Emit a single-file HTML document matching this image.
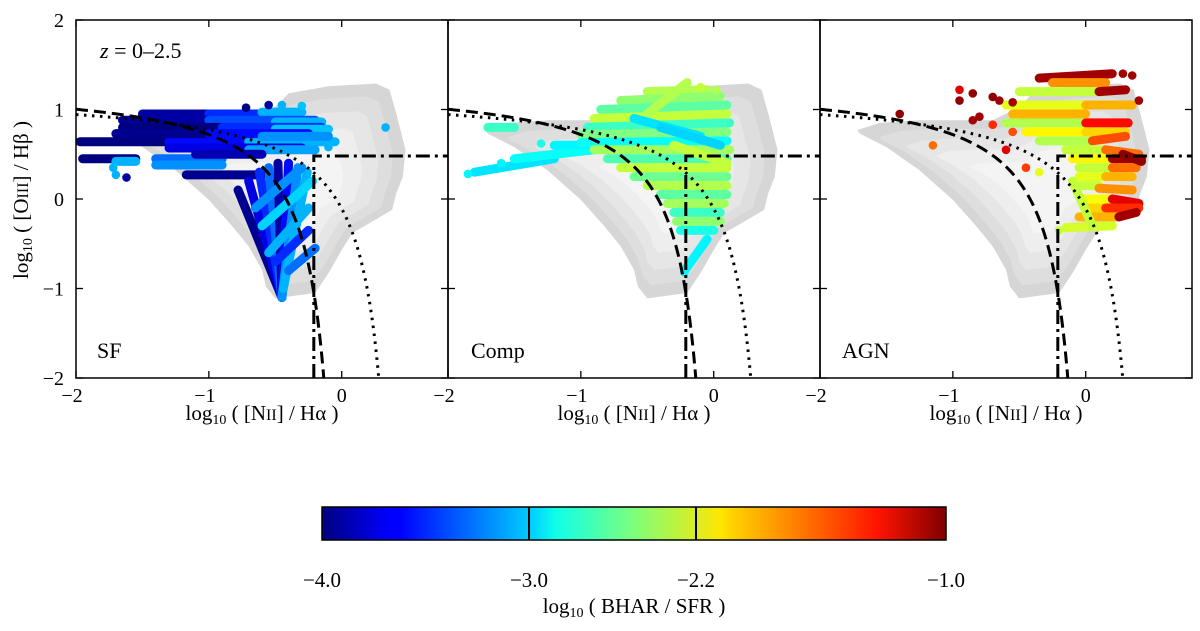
<!DOCTYPE html>
<html><head><meta charset="utf-8"><style>
body{margin:0;background:#fff;width:1200px;height:626px;overflow:hidden}
svg{font-family:"Liberation Serif",serif}
</style></head><body>
<svg id="fig" width="1200" height="626" viewBox="0 0 1200 626">
<defs>
<linearGradient id="jet" x1="0" x2="1" y1="0" y2="0">
<stop offset="0" stop-color="#000080"/><stop offset="0.11" stop-color="#0000ff"/><stop offset="0.125" stop-color="#0000ff"/><stop offset="0.34" stop-color="#00d4ff"/><stop offset="0.375" stop-color="#10ffe8"/><stop offset="0.5" stop-color="#7dff7a"/><stop offset="0.64" stop-color="#ffe600"/><stop offset="0.66" stop-color="#ffd000"/><stop offset="0.89" stop-color="#ff1400"/><stop offset="1" stop-color="#800000"/>
</linearGradient>
</defs>
<g id="panels"></g>
<g id="labels" font-size="21" fill="#000">
<text transform="translate(28,200) rotate(-90)" text-anchor="middle">log<tspan font-size="14" dy="4">10</tspan><tspan dy="-4"> ( [O</tspan><tspan font-size="16">III</tspan>] / Hβ )</text>
<text x="100" y="58" font-size="22"><tspan font-style="italic">z</tspan> = 0–2.5</text>
<text x="97" y="358" font-size="22">SF</text>
<text x="471" y="358" font-size="22">Comp</text>
<text x="842" y="358" font-size="22">AGN</text>
</g>
<g id="colorbar">
<rect x="322" y="507" width="624" height="33" fill="url(#jet)" stroke="#000" stroke-width="1.5"/>
<line x1="529" y1="507" x2="529" y2="540" stroke="#000" stroke-width="2"/>
<line x1="696" y1="507" x2="696" y2="540" stroke="#000" stroke-width="2"/>
<g font-size="21" text-anchor="middle">
<text x="322" y="587">−4.0</text>
<text x="529" y="587">−3.0</text>
<text x="696" y="587">−2.2</text>
<text x="946" y="587">−1.0</text>
<text x="634" y="613">log<tspan font-size="14" dy="4">10</tspan><tspan dy="-4"> ( BHAR / SFR )</tspan></text>
</g>
</g>
</svg>
<script>
const xTicks=[-2,-1,0];
const yTicks=[2,1,0,-1,-2];
const cloudX=[-1.72,-1.55,-1.25,-1.0,-0.70,-0.50,-0.40,-0.10,0.26,0.36,0.41,0.48,0.46,0.41,0.38,0.21,0.08,0.0,-0.10,-0.20,-0.50,-0.57,-0.60,-0.70,-0.82,-1.0,-1.25,-1.5,-1.70];
const cloudY=[0.77,0.85,0.88,0.88,0.88,1.03,1.18,1.26,1.29,1.22,0.96,0.55,0.25,0.06,-0.12,-0.27,-0.38,-0.57,-0.83,-1.05,-1.11,-0.98,-0.79,-0.53,-0.31,-0.01,0.32,0.58,0.73];
// tracks: x1,y1,x2,y2,log BHAR/SFR
const sfTracks=[
[-1.97,0.64,-1.3,0.64,-4.0],[-1.3,0.64,-0.7,0.64,-3.6],[-0.7,0.64,-0.05,0.64,-3.1],
[-1.95,0.45,-1.55,0.45,-4],[-1.4,0.45,-0.9,0.45,-3.3],[-1.55,0.42,-1.7,0.42,-3.1],
[-1.5,0.95,-1.0,0.95,-3.9],[-1.0,0.95,-0.6,0.95,-3.5],[-0.6,0.97,-0.3,0.97,-3.1],
[-1.65,0.88,-1.0,0.88,-3.9],[-1.0,0.88,-0.2,0.88,-3.4],[-0.5,0.86,-0.15,0.86,-3.1],
[-1.65,0.80,-0.9,0.80,-4],[-0.9,0.80,-0.15,0.80,-3.5],[-0.5,0.78,-0.1,0.78,-3.05],
[-1.7,0.73,-1.0,0.73,-3.95],[-1.0,0.73,-0.25,0.73,-3.6],[-0.6,0.70,-0.1,0.70,-3.2],
[-1.3,0.57,-0.3,0.57,-3.7],[-0.7,0.55,-0.2,0.55,-3.15],
[-1.1,0.5,-0.6,0.5,-3.85],[-1.4,0.38,-0.9,0.38,-3.2],
[-1.17,0.27,-0.6,0.27,-3.95],
[-0.45,-1.1,-0.78,0.1,-3.95],[-0.45,-1.1,-0.7,0.2,-3.7],[-0.45,-1.1,-0.62,0.3,-3.5],[-0.45,-1.1,-0.55,0.35,-3.3],[-0.45,-1.1,-0.48,0.4,-3.9],[-0.45,-1.1,-0.4,0.4,-3.6],[-0.45,-1.1,-0.33,0.35,-3.2],[-0.44,-1.0,-0.26,0.3,-3.1],
[-0.4,-0.8,-0.2,-0.55,-3.3],[-0.5,-0.7,-0.25,-0.35,-3.5],[-0.55,-0.6,-0.25,-0.1,-3.1],[-0.6,-0.3,-0.22,0.2,-3.0],[-0.65,-0.1,-0.3,0.35,-3.2]];
const sfPts=[[0.33,0.8,-3.1],[-1.7,0.27,-3.1],[-1.62,0.24,-3.9],[-0.55,1.05,-3.9],[-0.72,1.02,-4],[-1.72,0.35,-3.1],[-0.1,0.58,-3.1],[-0.45,1.05,-3.1],[-0.3,1.04,-3.05]];
const compTracks=[
[-1.8,0.3,-1.2,0.45,-2.95],[-1.5,0.45,-0.9,0.55,-2.85],[-1.7,0.8,-1.5,0.8,-2.7],[-1.2,0.6,-0.8,0.6,-2.9],
[-0.5,1.2,-0.05,1.22,-2.35],[-0.7,1.1,0.05,1.15,-2.45],[-0.85,1.0,0.1,1.05,-2.6],[-0.9,0.9,0.1,0.95,-2.3],
[-0.95,0.8,0.12,0.85,-2.7],[-1.0,0.72,0.1,0.75,-2.5],[-1.0,0.63,0.1,0.65,-2.85],[-0.9,0.55,0.12,0.55,-2.4],
[-0.8,0.45,0.1,0.45,-2.65],[-0.7,0.35,0.1,0.35,-2.3],[-0.6,0.25,0.1,0.25,-2.55],[-0.5,0.15,0.1,0.15,-2.35],
[-0.4,0.05,0.1,0.05,-2.6],[-0.35,-0.05,0.08,-0.05,-2.4],[-0.3,-0.15,0.05,-0.15,-2.7],[-0.28,-0.25,0.05,-0.25,-2.45],
[-0.25,-0.35,0.0,-0.35,-2.8],[-0.22,-0.8,-0.05,-0.45,-2.9],[-0.5,0.95,-0.2,1.3,-2.35],[-0.3,0.6,0.1,0.4,-2.3],
[-0.6,0.9,-0.1,0.7,-2.95],[-0.4,0.8,0.05,0.6,-3.0]];
const compPts=[[-1.85,0.28,-2.9],[-1.3,0.62,-2.8],[-0.22,-0.82,-2.9],[0.02,1.22,-2.35],[-0.1,1.25,-2.3],[-1.6,0.4,-2.9]];
const agnTracks=[
[-0.35,1.35,0.2,1.4,-1.1],[-0.25,1.3,0.15,1.3,-1.8],[-0.5,1.2,0.1,1.2,-2.3],[0.1,1.2,0.3,1.22,-1.1],
[-0.6,1.05,0.0,1.05,-2.2],[0.0,1.05,0.35,1.05,-1.9],[-0.55,0.95,0.0,0.95,-1.9],[-0.6,0.85,0.0,0.85,-2.35],[0.0,0.85,0.32,0.85,-1.4],
[-0.45,0.75,0.0,0.75,-2.1],[0.0,0.75,0.3,0.75,-2.0],[-0.35,0.65,0.05,0.65,-2.35],[0.05,0.65,0.3,0.7,-1.6],
[-0.15,0.55,0.15,0.55,-2.3],[0.15,0.55,0.4,0.5,-1.7],[-0.1,0.45,0.2,0.45,-2.1],[0.2,0.45,0.42,0.45,-1.1],
[-0.05,0.35,0.2,0.35,-2.3],[0.2,0.35,0.38,0.35,-1.7],[-0.05,0.25,0.15,0.25,-2.2],[0.15,0.25,0.35,0.25,-1.9],
[-0.05,0.15,0.1,0.15,-2.3],[0.1,0.12,0.35,0.1,-1.8],[0.0,0.0,0.2,0.0,-2.15],[0.2,0.0,0.4,-0.05,-1.3],
[0.0,-0.1,0.15,-0.1,-2.0],[0.15,-0.1,0.4,-0.1,-1.5],[-0.05,-0.2,0.25,-0.2,-1.9],[0.25,-0.2,0.38,-0.15,-1.1],
[-0.15,-0.32,0.2,-0.3,-2.25],[-0.1,0.2,0.05,-0.3,-2.3],[0.28,0.5,0.42,0.42,-1.05]];
const agnPts=[[-1.4,0.95,-1.05],[-1.15,0.6,-1.7],[-0.85,0.88,-1.1],[-0.8,0.92,-1.1],[-0.65,1.1,-1.1],[-0.55,1.08,-1.1],[-0.7,0.83,-1.5],[-0.55,0.75,-1.6],[-0.6,0.55,-1.3],[-0.45,0.35,-1.55],[-0.35,0.3,-2.2],[0.28,1.4,-1.1],[0.35,1.38,-1.1],[0.4,1.1,-1.1],[-0.2,-0.35,-2.3],[-0.95,1.1,-1.05],[-0.85,1.18,-1.05],[-0.7,1.14,-1.05],[-0.95,1.22,-1.3]];
const panelLeft=[76,448,820];
const panelTracks=[sfTracks,compTracks,agnTracks];
const panelPts=[sfPts,compPts,agnPts];
const names=['sf','comp','agn'];
const NS='http://www.w3.org/2000/svg';
const W=372,T=20,H=358,XMIN=-2,XMAX=0.8,YMIN=-2,YMAX=2;
function jet(v){let t=(v+4)/3;t=Math.max(0,Math.min(1,t));
const c=f=>Math.round(255*Math.max(0,Math.min(1,f)));
return `rgb(${c(1.5-Math.abs(4*t-3))},${c(1.5-Math.abs(4*t-2))},${c(1.5-Math.abs(4*t-1))})`;}
function mk(tag,attrs,parent){const e=document.createElementNS(NS,tag);for(const k in attrs)e.setAttribute(k,attrs[k]);parent.appendChild(e);return e;}
const root=document.getElementById('panels');
panelLeft.forEach((L,p)=>{
const sx=x=>L+(x-XMIN)/(XMAX-XMIN)*W, sy=y=>T+(YMAX-y)/(YMAX-YMIN)*H;
const g=mk('g',{},root);


const cp=mk('clipPath',{id:'cp'+p},g);mk('rect',{x:L,y:T,width:W,height:H},cp);
const inner=mk('g',{'clip-path':'url(#cp'+p+')'},g);
const cx=-0.3,cy=0.1;const shades=['#d6d6d6','#dedede','#e6e6e6','#eeeeee','#f4f4f4'];const sc=[1,0.88,0.74,0.58,0.4];
shades.forEach((s,i)=>{const pts=cloudX.map((x,j)=>sx(cx+(x-cx)*sc[i])+','+sy(cy+(cloudY[j]-cy)*sc[i])).join(' ');
const pg=mk('polygon',{points:pts,fill:s},inner);

});
panelTracks[p].forEach(t=>{const l=mk('line',{x1:sx(t[0]),y1:sy(t[1]),x2:sx(t[2]),y2:sy(t[3]),stroke:jet(t[4]),'stroke-width':9,'stroke-linecap':'round'},inner);

});
panelPts[p].forEach(t=>{const c=mk('circle',{cx:sx(t[0]),cy:sy(t[1]),r:4.3,fill:jet(t[2])},inner);

});
let dK='',dKe='';
for(let x=-2;x<=0.04;x+=0.01){const y=0.61/(x-0.05)+1.3;if(y<-2.2)break;dK+=(dK?'L':'M')+sx(x)+','+sy(y);}
for(let x=-2;x<=0.46;x+=0.01){const y=0.61/(x-0.47)+1.19;if(y<-2.2)break;dKe+=(dKe?'L':'M')+sx(x)+','+sy(y);}
const k=mk('path',{d:dK,fill:'none',stroke:'#000','stroke-width':3,'stroke-dasharray':'12,6'},inner);


const ke=mk('path',{d:dKe,fill:'none',stroke:'#000','stroke-width':3,'stroke-dasharray':'2.5,5.5'},inner);


const dd=mk('path',{d:`M${sx(-0.21)},${sy(-2)}L${sx(-0.21)},${sy(0.48)}L${sx(0.8)},${sy(0.48)}`,fill:'none',stroke:'#000','stroke-width':3,'stroke-dasharray':'14,5,3,5'},inner);


const fr=mk('rect',{x:L,y:T,width:W,height:H,fill:'none',stroke:'#000','stroke-width':1.5},g);


xTicks.forEach(v=>{mk('line',{x1:sx(v),x2:sx(v),y1:T,y2:T+7,stroke:'#000','stroke-width':1.3},g);mk('line',{x1:sx(v),x2:sx(v),y1:T+H,y2:T+H-7,stroke:'#000','stroke-width':1.3},g);
const tx=mk('text',{x:sx(v)+(v<0?-4:0),y:T+H+24,'font-size':20,'text-anchor':'middle'},g);tx.textContent=v<0?'−'+(-v):String(v);

});
yTicks.forEach(v=>{mk('line',{x1:L,x2:L+7,y1:sy(v),y2:sy(v),stroke:'#000','stroke-width':1.3},g);mk('line',{x1:L+W,x2:L+W-7,y1:sy(v),y2:sy(v),stroke:'#000','stroke-width':1.3},g);
if(p===0){const ty=mk('text',{x:L-12,y:sy(v)+7,'font-size':20,'text-anchor':'end'},g);ty.textContent=v<0?'−'+(-v):String(v);

}});
const xl=mk('text',{x:L+186,y:420,'font-size':21,'text-anchor':'middle'},g);
xl.innerHTML='log<tspan font-size="14" dy="4">10</tspan><tspan dy="-4"> ( [N</tspan><tspan font-size="16">II</tspan>] / Hα )';


});
</script>
</body></html>
